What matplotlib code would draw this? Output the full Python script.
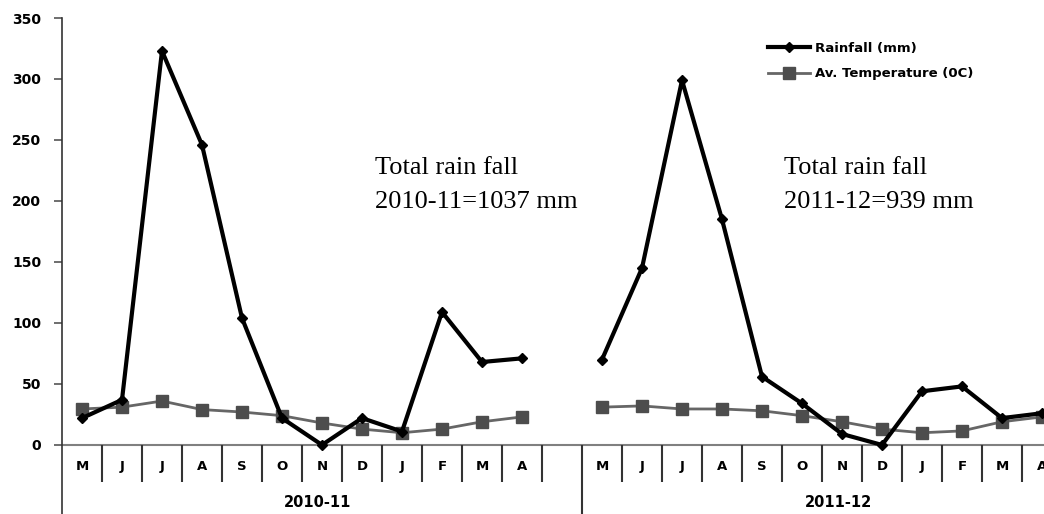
import matplotlib.pyplot as plt
import numpy as np

months = ['M', 'J', 'J', 'A', 'S', 'O', 'N', 'D', 'J', 'F', 'M', 'A']
seasons = ['2010-11', '2011-12']

rain_2010 = [22, 37, 323, 246, 104, 22, 0, 22, 11, 109, 68, 71]
rain_2011 = [70, 145, 299, 185, 56, 34, 9, 0, 44, 48, 22, 26]
temp_2010 = [29.5, 31, 36, 29, 27, 24, 18, 13, 10, 13, 19, 23]
temp_2011 = [31, 32, 29.5, 29.5, 28, 24, 19, 13, 10, 11.5, 19, 23]

# 12 meses + hueco + 12 meses
rain = rain_2010 + [np.nan] + rain_2011
temp = temp_2010 + [np.nan] + temp_2011
x = np.arange(len(rain))

fig = plt.figure(figsize=(10.44, 5.14), dpi=100)
ax = fig.add_axes([62 / 1044, 0, 1 - 62 / 1044, 1 - 18 / 514])

ax.plot(x, temp, '-s', color='#666666', lw=2, ms=9,
        mfc='#4d4d4d', mec='#4d4d4d', label='Av. Temperature (0C)', zorder=2)
ax.plot(x, rain, '-D', color='black', lw=3, ms=5.5,
        label='Rainfall (mm)', zorder=3)

ax.set_xlim(-0.5, 24.05)
ax.set_ylim(-56.6, 350)
ax.set_yticks(np.arange(0, 351, 50))
ax.set_xticks([])
for lab in ax.get_yticklabels():
    lab.set_fontweight('bold')
    lab.set_fontsize(10)
ax.tick_params(axis='y', direction='out', length=6, width=1.2, color='#555555', pad=9)

for s in ['top', 'right', 'bottom']:
    ax.spines[s].set_visible(False)
ax.spines['left'].set_color('#333333')
ax.spines['left'].set_linewidth(1.2)

ax.axhline(0, color='#808080', lw=1.5, zorder=1)

# separadores de meses
seps = [i + 0.5 for i in range(12)] + [i + 0.5 for i in range(13, 24)]
ax.vlines(seps, -30.5, 0, color='#333333', lw=1.5)
ax.vlines(12.5, -56.6, 0, color='#333333', lw=1.5)

for i, m in enumerate(months):
    ax.text(i, -18, m, ha='center', va='center', fontsize=9.5, fontweight='bold')
    ax.text(i + 13, -18, m, ha='center', va='center', fontsize=9.5, fontweight='bold')

ax.text(5.9, -47.5, seasons[0], ha='center', va='center', fontsize=10.5, fontweight='bold')
ax.text(18.9, -47.5, seasons[1], ha='center', va='center', fontsize=10.5, fontweight='bold')

serif = dict(fontsize=19, family='Liberation Serif', va='center')
ax.text(7.33, 227, 'Total rain fall', **serif)
ax.text(7.33, 199, '2010-11=1037 mm', **serif)
ax.text(17.55, 227, 'Total rain fall', **serif)
ax.text(17.55, 199, '2011-12=939 mm', **serif)

handles, labels = ax.get_legend_handles_labels()
leg = ax.legend(handles[::-1], labels[::-1], loc='upper left',
                bbox_to_anchor=(756 / 1044, 1 - 30 / 514), bbox_transform=fig.transFigure,
                frameon=False, prop={'weight': 'bold', 'size': 9.5},
                handlelength=3.2, labelspacing=0.95, handletextpad=0.4)

plt.savefig('out.png', dpi=100)
